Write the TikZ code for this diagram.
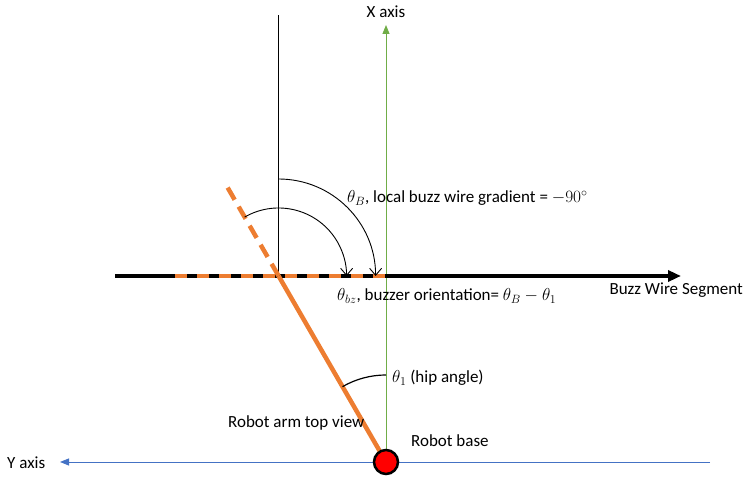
\documentclass[tikz,border=0pt]{standalone}
\usepackage{fontspec}
\setmainfont{Carlito}
\usetikzlibrary{arrows.meta,calc}
\definecolor{armor}{HTML}{ED7D31}
\definecolor{axgreen}{HTML}{70AD47}
\definecolor{axblue}{HTML}{4472C4}
\begin{document}
\begin{tikzpicture}[x=1pt,y=1pt,
  lbl/.style={font=\fontsize{17}{20}\selectfont, inner sep=0pt},
  thinline/.style={line width=0.9pt},
  anglearc/.style={line width=0.9pt, -{Straight Barb[length=7pt,width=12pt,line width=0.9pt]}},
  wire/.style={line width=4pt},
  arm/.style={armor, line width=4.5pt}]
\useasboundingbox (0,0) rectangle (745,478);
\coordinate (C) at (278.6,202);
\coordinate (B) at (386,16);
\coordinate (Ctop) at (278.6,463);
\coordinate (Xbot) at (386,16);
\coordinate (Xtop) at (386,453);
\coordinate (Yr) at (710,16);
\coordinate (Yl) at (60,16);
\coordinate (Wl) at (115,202);
\coordinate (Wr) at (681,202);
\coordinate (Ws) at (175,202);
\coordinate (We) at (386,202);
\coordinate (Ae) at (225,295);
% axes
\draw[thinline] (C) -- (Ctop);
\draw[axgreen, thinline, -{Triangle[length=9pt,width=7pt]}] (Xbot) -- (Xtop);
\draw[axblue, thinline, -{Triangle[length=9pt,width=7pt]}] (Yr) -- (Yl);
% buzz wire
\draw[wire, -{Triangle[length=13pt,width=11pt]}] (Wl) -- (Wr);
\draw[armor, wire, dash pattern=on 12pt off 10pt] (Ws) -- (We);
% arm
\draw[arm] (B) -- (C);
\draw[arm, dash pattern=on 14pt off 8pt] (C) -- (Ae);
% angle arcs
\draw[anglearc] ($(C)+(90:97)$) arc[start angle=90, end angle=0, radius=97];
\draw[anglearc] ($(C)+(120:68)$) arc[start angle=120, end angle=0, radius=68];
\draw[line width=1.2pt] ($(B)+(90:87)$) arc[start angle=90, end angle=120, radius=87];
% robot base
\node[circle, fill=red, draw=black, line width=2.5pt, minimum size=24pt, inner sep=0pt] (base) at (B) {};
% labels
\node[lbl] (xlab) at (386,466) {X axis};
\node[lbl, anchor=west] (ylab) at (7,15) {Y axis};
\node[lbl, anchor=west] (tB) at (347,280) {$\theta_B$, local buzz wire gradient = $-90^{\circ}$};
\node[lbl, anchor=west] (tbz) at (337,182) {$\theta_{bz}$, buzzer orientation= $\theta_B-\theta_1$};
\node[lbl, anchor=east] (bws) at (743,188) {Buzz Wire Segment};
\node[lbl, anchor=west] (t1) at (392,100) {$\theta_1$ (hip angle)};
\node[lbl, anchor=west] (armlab) at (228,55) {Robot arm top view};
\node[lbl, anchor=west] (baselab) at (411,37) {Robot base};
\end{tikzpicture}
\end{document}
